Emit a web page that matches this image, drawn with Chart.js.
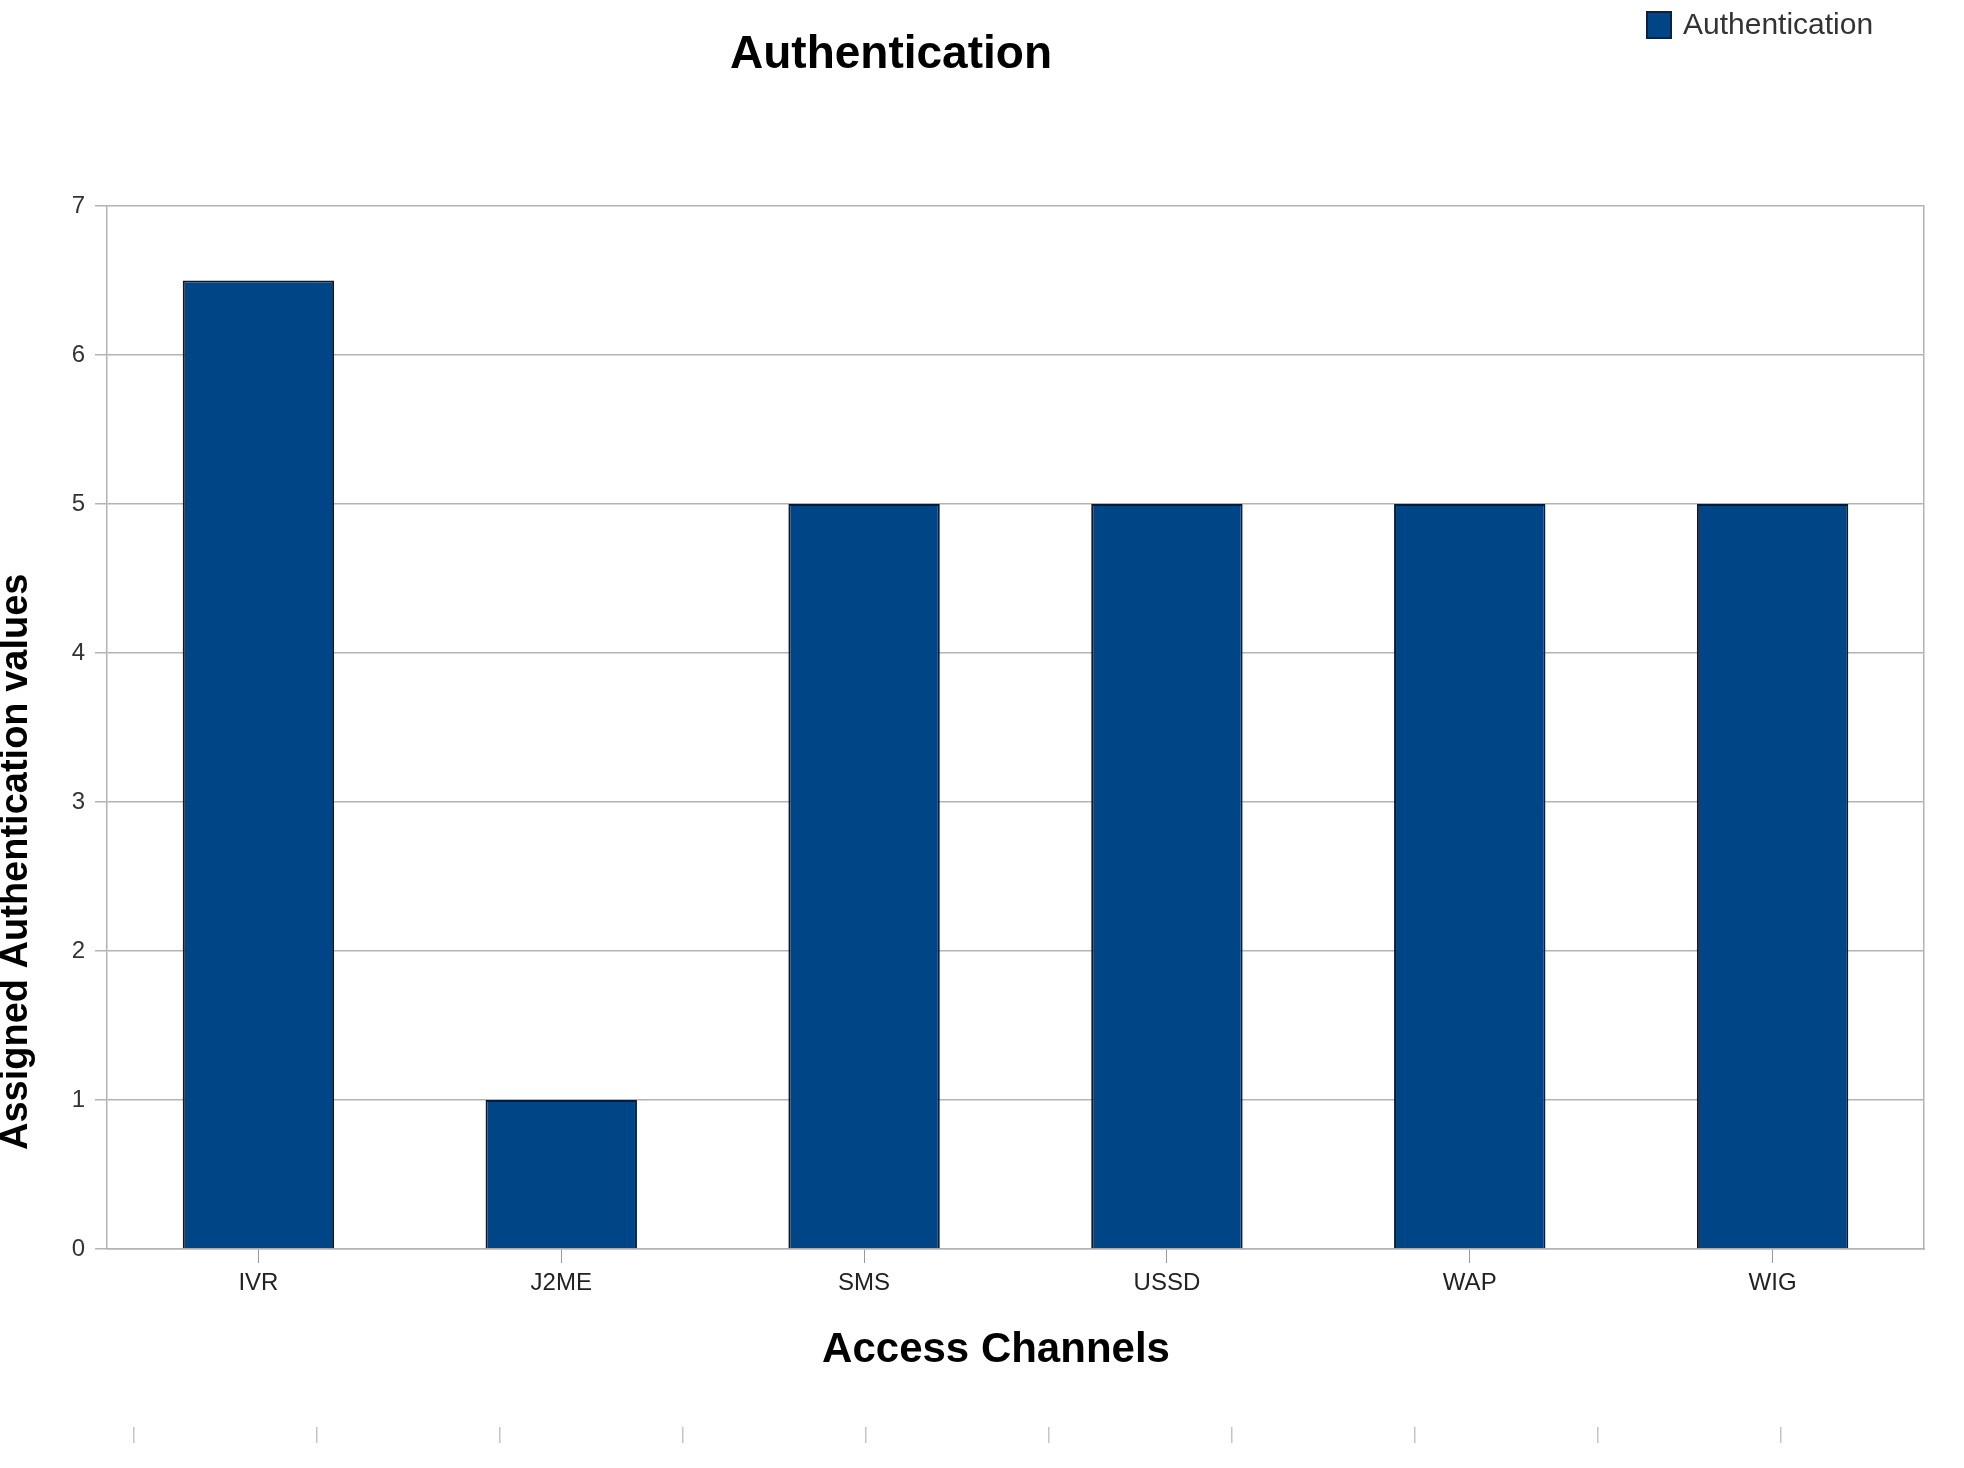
<!DOCTYPE html>
<html>
<head>
<meta charset="utf-8">
<title>Authentication</title>
<script src="https://cdn.jsdelivr.net/npm/chart.js@4.4.1/dist/chart.umd.min.js"></script>
<style>
  html, body { margin: 0; padding: 0; background: #ffffff; }
  canvas { display: block; }
</style>
</head>
<body>
<canvas id="authentication" width="1964" height="1468"></canvas>
<script>
const channels = ['IVR', 'J2ME', 'SMS', 'USSD', 'WAP', 'WIG'];
const authValues = [6.5, 1, 5, 5, 5, 5];
const seriesName = 'Authentication';
const chartTitle = 'Authentication';
const xTitle = 'Access Channels';
const yTitle = 'Assigned Authentication values';

const barBlue = '#004586';
const gridGrey = '#b3b3b3';

Chart.defaults.font.family = '"Liberation Sans", Arial, sans-serif';

// title, legend and the axis titles, drawn where the original has them
const extraText = {
    id: 'extraText',
    afterDraw(chart) {
        const ctx = chart.ctx;
        ctx.save();
        ctx.fillStyle = '#000';
        ctx.font = 'bold 46px "Liberation Sans", Arial, sans-serif';
        ctx.textAlign = 'center';
        ctx.textBaseline = 'alphabetic';
        ctx.fillText(chartTitle, 891, 68);

        ctx.font = 'bold 42px "Liberation Sans", Arial, sans-serif';
        ctx.fillText(xTitle, 996, 1362);

        // legend
        ctx.fillStyle = barBlue;
        ctx.fillRect(1647, 12, 24, 26);
        ctx.strokeStyle = '#0d2240';
        ctx.lineWidth = 2;
        ctx.strokeRect(1647, 12, 24, 26);
        ctx.fillStyle = '#333';
        ctx.font = '30px "Liberation Sans", Arial, sans-serif';
        ctx.textAlign = 'left';
        ctx.textBaseline = 'middle';
        ctx.fillText(chart.data.datasets[0].label, 1683, 26);

        // y axis title
        ctx.translate(27, 1150);
        ctx.rotate(-Math.PI / 2);
        ctx.fillStyle = '#000';
        ctx.font = 'bold 38px "Liberation Sans", Arial, sans-serif';
        ctx.textBaseline = 'alphabetic';
        ctx.fillText(yTitle, 0, 0);
        ctx.restore();
    }
};

const ctx = document.getElementById('authentication').getContext('2d');
const chart = new Chart(ctx, {
    type: 'bar',
    data: {
        labels: channels,
        datasets: [{
            label: seriesName,
            data: authValues,
            backgroundColor: barBlue,
            borderColor: '#0a1a33',
            borderWidth: 2,
            barPercentage: 0.5,
            categoryPercentage: 1
        }]
    },
    options: {
        responsive: false,
        animation: false,
        devicePixelRatio: 1,
        layout: {
            padding: { top: 206, right: 40, left: 0, bottom: 0 }
        },
        plugins: {
            legend: { display: false },
            title: { display: false },
            tooltip: { enabled: false }
        },
        scales: {
            x: {
                weight: 0,
                afterFit(scale) { scale.height = 178; },
                grid: {
                    offset: false,
                    drawOnChartArea: false,
                    tickLength: 14,
                    color: '#999'
                },
                border: { color: gridGrey, width: 1.5 },
                ticks: {
                    color: '#222',
                    padding: 6,
                    font: { size: 24 }
                }
            },
            // the row of stray tick marks at the very bottom of the picture
            x2: {
                type: 'linear',
                position: 'bottom',
                weight: 1,
                offset: false,
                bounds: 'data',
                min: -0.1475,
                max: 9.781,
                afterFit(scale) { scale.height = 41; },
                afterBuildTicks(scale) {
                    scale.ticks = Array.from({ length: 10 }, (_, i) => ({ value: i }));
                },
                grid: {
                    offset: false,
                    drawOnChartArea: false,
                    tickLength: 16,
                    color: '#c4c4c4',
                    lineWidth: 1.5
                },
                border: { display: false },
                ticks: { display: false }
            },
            y: {
                min: 0,
                max: 7,
                afterFit(scale) { scale.width = 107; },
                grid: {
                    color: gridGrey,
                    lineWidth: 1.5,
                    tickLength: 12
                },
                border: { color: gridGrey, width: 1.5 },
                ticks: {
                    stepSize: 1,
                    color: '#333',
                    padding: 10,
                    font: { size: 24 }
                }
            },
            y2: {
                position: 'right',
                afterFit(scale) { scale.width = 0; },
                grid: { display: false },
                border: { color: gridGrey, width: 1.5 },
                ticks: { display: false }
            }
        }
    },
    plugins: [extraText]
});
</script>
</body>
</html>
